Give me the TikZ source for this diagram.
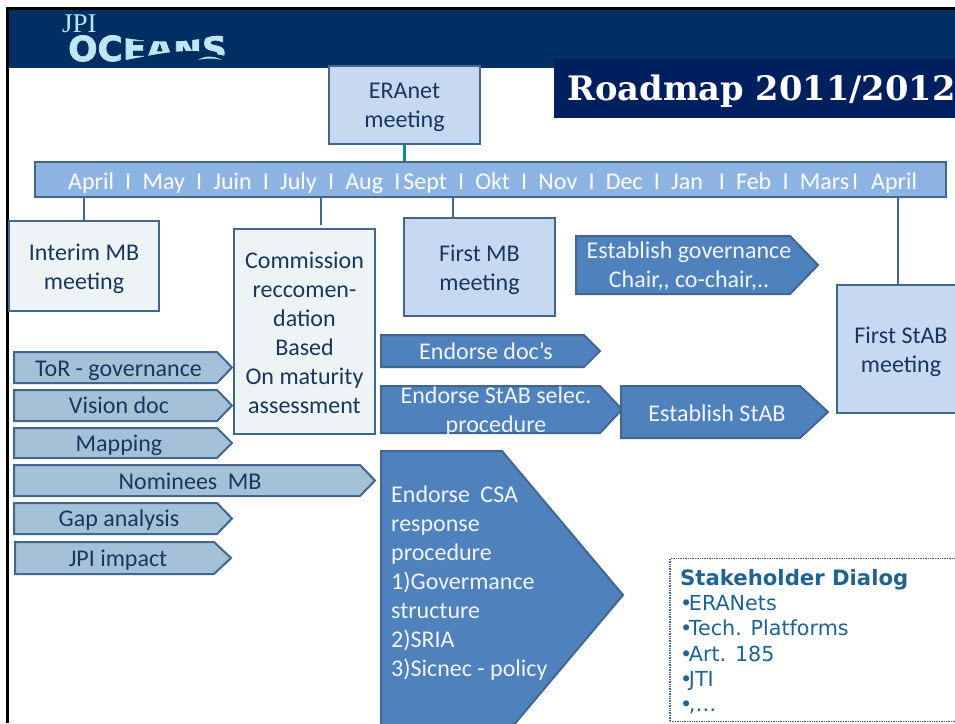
\documentclass[tikz,border=0pt]{standalone}
\usepackage{fontspec}
\setmainfont{Carlito}
\newfontfamily\dvs{DejaVu Sans}
\newfontfamily\logofont[BoldFeatures={FakeBold=2}]{DejaVu Sans}
\newfontfamily\dvserif{DejaVu Serif}
\newfontfamily\lserif{Liberation Serif}
\definecolor{band}{HTML}{003063}
\definecolor{titlebg}{HTML}{001F5F}
\definecolor{edgeblue}{HTML}{41668F}
\definecolor{boxblue}{HTML}{C6D9F1}
\definecolor{barblue}{HTML}{8EB4E3}
\definecolor{paleg}{HTML}{EEF3F6}
\definecolor{darktext}{HTML}{17375E}
\definecolor{midblue}{HTML}{4F81BD}
\definecolor{steel}{HTML}{A5C1D8}
\definecolor{teal}{HTML}{0F8E8E}
\definecolor{dialog}{HTML}{1F6391}
\definecolor{logoblue}{HTML}{BFE4F3}
\tikzset{
  x=1pt,y=-1pt,
  txt/.style={font=\fontsize{24}{29}\selectfont,align=center,inner sep=0pt,text=darktext},
  boxn/.style={draw=edgeblue,line width=2.2pt,fill=#1,inner sep=0pt},
  conn/.style={draw=edgeblue,line width=2pt},
  pentl/.style={draw=edgeblue,line width=2pt,fill=steel},
  pentd/.style={draw=edgeblue,line width=2pt,fill=midblue},
  wtxt/.style={txt,text=white!92!midblue},
}
\newcommand{\mgap}{\hspace{11.2pt}}
\begin{document}
\begin{tikzpicture}
\useasboundingbox (0,0) rectangle (955,723);
\clip (0,0) rectangle (955,723);
\fill[white] (0,0) rectangle (955,723);
% slide frame and band
\fill[band] (7,8) rectangle (955,68);
\fill[black] (6,7) rectangle (955,9.5);
\fill[black] (6,7) rectangle (9,723);
% logo
\node[anchor=base west,inner sep=0pt,text=logoblue,font=\lserif\fontsize{27}{27}\selectfont] (jpi) at (62,32) {JPI};
\node[anchor=base west,inner sep=0pt,text=logoblue,font=\logofont\bfseries\fontsize{34.5}{34.5}\selectfont] (oceans) at (68,61) {OCEANS};
\fill[band] (120,33) -- (226,33) -- (226,35) -- (212,36) .. controls (190,43) and (150,43) .. (120,37) -- cycle;
\fill[band] (120,61) .. controls (140,58) and (165,51) .. (192,51) .. controls (204,51) and (214,54) .. (226,56) -- (226,66) -- (120,66) -- cycle;
\fill[logoblue] (198,60) .. controls (206,55) and (214,56) .. (222,60) .. controls (214,58) and (206,58) .. (198,60) -- cycle;
% title
\fill[titlebg] (554,59) rectangle (955,118);
\node[anchor=base west,inner sep=0pt,text=white,font=\dvserif\bfseries\fontsize{33.7}{33.7}\selectfont] (title) at (567,100) {Roadmap 2011/2012};
% timeline
\node[boxn=boxblue,minimum width=151,minimum height=78] (era) at (404.5,105) {};
\node[txt] (eratext) at (404.5,107) {ERAnet\\meeting};
\node[boxn=barblue,minimum width=911,minimum height=35] (bar) at (490.5,179.5) {};
\node[anchor=base west,inner sep=0pt,text=white,font=\fontsize{24}{29}\selectfont] (months) at (68,189)
 {April\mgap I\mgap May\mgap I\mgap Juin\mgap I\mgap July\mgap I\mgap Aug\mgap I\hspace{3pt}Sept\mgap I\mgap Okt\mgap I\mgap Nov\mgap I\mgap Dec\mgap I\mgap Jan\hspace{16pt}I\mgap Feb\mgap I\mgap Mars\hspace{3pt}I\hspace{13pt}April};
\draw[teal,line width=2.5pt] (era.south) -- (bar.north -| era.south);
% boxes
\node[boxn=paleg,minimum width=150,minimum height=90] (interim) at (84,266) {};
\node[txt] (interimtext) at (84,268.5) {Interim MB\\meeting};
\node[boxn=paleg,minimum width=141,minimum height=205] (comm) at (304.5,331.5) {};
\node[txt] (commtext) at (304.5,333) {Commission\\reccomen-\\dation\\Based\\On maturity\\assessment};
\node[boxn=boxblue,minimum width=151,minimum height=98] (first) at (479.5,267) {};
\node[txt] (firsttext) at (479.5,270) {First MB\\meeting};
\node[boxn=boxblue,minimum width=122,minimum height=128] (stab) at (898,349) {};
\node[txt] (stabtext) at (901,352) {First StAB\\meeting};
\coordinate (c1) at (321,225);
\coordinate (c2) at (453,218);
\draw[conn] (bar.south -| interim.north) -- (interim.north);
\draw[conn] (bar.south -| c1) -- (c1);
\draw[conn] (bar.south -| c2) -- (c2);
\draw[conn] (bar.south -| stab.north) -- (stab.north);
% light pentagons
\draw[pentl] (14,352) -- (217,352) -- (232,367.5) -- (217,383) -- (14,383) -- cycle;
\node[txt] (tor) at (118.5,371) {ToR - governance};
\draw[pentl] (14,390) -- (217,390) -- (232,405.5) -- (217,421) -- (14,421) -- cycle;
\node[txt] (vision) at (119,405) {Vision doc};
\draw[pentl] (14,428) -- (217,428) -- (232,443) -- (217,458) -- (14,458) -- cycle;
\node[txt] (mapping) at (119,445) {Mapping};
\draw[pentl] (14,465) -- (360,465) -- (375,480.5) -- (360,496) -- (14,496) -- cycle;
\node[txt] (nominees) at (190,481.5) {Nominees\hspace{5pt} MB};
\draw[pentl] (14,503) -- (217,503) -- (232,518.5) -- (217,534) -- (14,534) -- cycle;
\node[txt] (gap) at (119,520) {Gap analysis};
\draw[pentl] (15,542) -- (214,542) -- (231,558) -- (214,574) -- (15,574) -- cycle;
\node[txt] (impact) at (118,560) {JPI impact};
% dark pentagons
\draw[pentd] (576,236) -- (790,236) -- (818,265) -- (790,294) -- (576,294) -- cycle;
\node[wtxt] (gov) at (689,266) {Establish governance\\Chair,{}, co-chair,.{}.};
\draw[pentd] (381,335) -- (584,335) -- (600,351) -- (584,367) -- (381,367) -- cycle;
\node[wtxt] (doc) at (486,351) {Endorse doc's};
\draw[pentd] (381,386) -- (600,386) -- (622,409.5) -- (600,433) -- (381,433) -- cycle;
\node[wtxt] (sel) at (496,411.5) {Endorse StAB selec.\\procedure};
\draw[pentd] (621,386) -- (800,386) -- (828,412) -- (800,438) -- (621,438) -- cycle;
\node[wtxt] (est) at (717,413) {Establish StAB};
\draw[pentd] (381,451) -- (502,451) -- (623,595) -- (502,739) -- (381,739) -- cycle;
\node[wtxt,anchor=north west,align=left] (csa) at (391,486) {Endorse\hspace{5pt} CSA\\response\\procedure\\1)Govermance\\structure\\2)SRIA\\3)Sicnec - policy};
% stakeholder box
\node[draw=edgeblue,densely dotted,line width=1.4pt,minimum width=300,minimum height=163,inner sep=0pt] (dialogbox) at (820,640) {};
\node[anchor=north west,align=left,inner sep=0pt,text=dialog,font=\dvs\fontsize{20.7}{25.3}\selectfont] (dialogtext) at (680,569)
 {{\fontsize{21.2}{25.3}\selectfont\textbf{Stakeholder Dialog}}\\•\hspace{-3.5pt}ERANets\\•\hspace{-3.5pt}Tech. Platforms\\•\hspace{-3.5pt}Art. 185\\•\hspace{-3.5pt}JTI\\•\hspace{-3.5pt},…};
\end{tikzpicture}
\end{document}
